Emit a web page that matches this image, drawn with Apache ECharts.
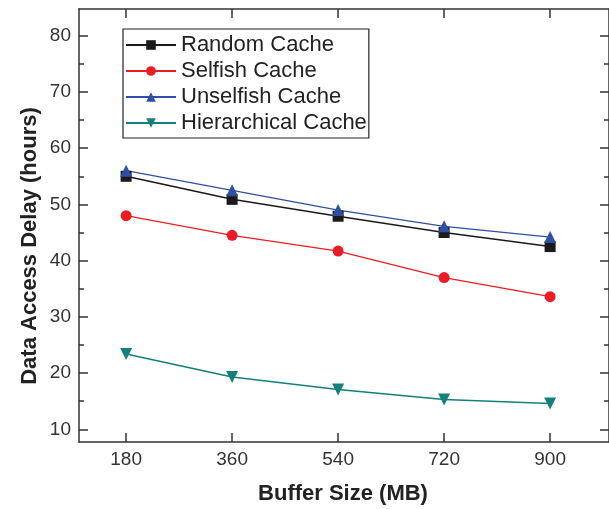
<!DOCTYPE html>
<html>
<head>
<meta charset="utf-8">
<script src="https://cdn.jsdelivr.net/npm/echarts@6/dist/echarts.min.js"></script>
<style>html,body{margin:0;padding:0;background:#fff;}#c{width:609px;height:509px;}</style>
</head>
<body>
<div id="c"></div>
<script>
const categories = [180, 360, 540, 720, 900];
const randomCache = [55.0, 50.9, 47.9, 45.0, 42.5];
const selfishCache = [48.0, 44.5, 41.7, 37.0, 33.6];
const unselfishCache = [56.0, 52.5, 49.0, 46.1, 44.2];
const hierarchicalCache = [23.4, 19.3, 17.1, 15.3, 14.6];
const yTicks = [10, 20, 30, 40, 50, 60, 70, 80];
const yMinorTicks = [15, 25, 35, 45, 55, 65, 75];
const xTicks = [180, 360, 540, 720, 900];

const FONT = 'Liberation Sans';
const axisColor = '#333';
const yMin = 7.75, yMax = 84.75, xMin = 100, xMax = 1000;

function yAx(pos, ticks, len, showLabel, showLine) {
  return {
    type: 'value', position: pos, min: yMin, max: yMax,
    splitLine: {show: false},
    axisLine: {show: showLine, lineStyle: {color: axisColor, width: 1.5}},
    axisTick: {show: true, inside: true, length: len, customValues: ticks, lineStyle: {color: axisColor, width: 1.5}},
    axisLabel: {show: showLabel, customValues: ticks, fontFamily: FONT, fontSize: 19, color: '#333', margin: 8}
  };
}
function xAx(pos, showLabel) {
  return {
    type: 'value', position: pos, min: xMin, max: xMax,
    splitLine: {show: false},
    axisLine: {show: true, lineStyle: {color: axisColor, width: 1.5}},
    axisTick: {show: true, inside: true, length: 9, customValues: xTicks, lineStyle: {color: axisColor, width: 1.5}},
    axisLabel: {show: showLabel, customValues: xTicks, fontFamily: FONT, fontSize: 19, color: '#333', margin: 8}
  };
}
function pairs(vals) { return categories.map((c, i) => [c, vals[i]]); }

const chart = echarts.init(document.getElementById('c'), null, {renderer: 'canvas'});
chart.setOption({
  animation: false,
  backgroundColor: '#fff',
  grid: {left: 79, top: 9, width: 532, height: 433},
  xAxis: [xAx('bottom', true), xAx('top', false)],
  yAxis: [
    yAx('left', yTicks, 9, true, true),
    yAx('left', yMinorTicks, 5, false, false),
    yAx('right', yTicks, 9, false, true),
    yAx('right', yMinorTicks, 5, false, false)
  ],
  legend: {
    orient: 'vertical', left: 123, top: 29,
    padding: [5, 2, 4, 2], itemGap: 4, itemWidth: 50, itemHeight: 12,
    borderColor: '#222', borderWidth: 1.2, backgroundColor: '#fff',
    textStyle: {fontFamily: FONT, fontSize: 22, color: '#222'},
    data: ['Random Cache', 'Selfish Cache', 'Unselfish Cache', 'Hierarchical Cache']
  },
  graphic: [
    {type: 'text', x: 30, y: 246, rotation: Math.PI / 2, z: 10,
      style: {text: 'Data Access Delay (hours)', font: 'bold 22px "Liberation Sans"', fill: '#222',
        align: 'center', verticalAlign: 'middle'}},
    {type: 'text', x: 343, y: 494,
      style: {text: 'Buffer Size (MB)', font: 'bold 22px "Liberation Sans"', fill: '#222',
        align: 'center', verticalAlign: 'middle'}}
  ],
  series: [
    {name: 'Random Cache', type: 'line', data: pairs(randomCache), symbol: 'rect', symbolSize: 11,
      itemStyle: {color: '#1a1a1a'}, lineStyle: {color: '#1a1a1a', width: 1.5}},
    {name: 'Selfish Cache', type: 'line', data: pairs(selfishCache), symbol: 'circle', symbolSize: 11,
      itemStyle: {color: '#ec1c24'}, lineStyle: {color: '#ec1c24', width: 1.3}},
    {name: 'Unselfish Cache', type: 'line', data: pairs(unselfishCache), symbol: 'triangle', symbolSize: 12,
      itemStyle: {color: '#2e4fa3'}, lineStyle: {color: '#2e4fa3', width: 1.3}},
    {name: 'Hierarchical Cache', type: 'line', data: pairs(hierarchicalCache), symbol: 'triangle', symbolRotate: 180, symbolSize: 12,
      itemStyle: {color: '#138079'}, lineStyle: {color: '#138079', width: 1.5}}
  ]
});
</script>
</body>
</html>
